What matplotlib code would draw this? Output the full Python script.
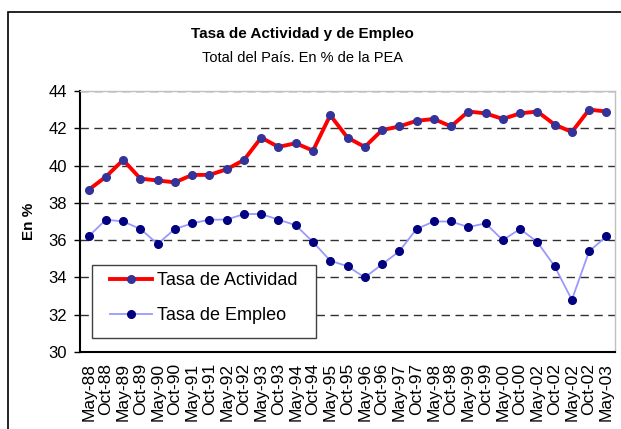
import matplotlib
matplotlib.use('Agg')
import matplotlib.pyplot as plt
from matplotlib.patches import Rectangle
import numpy as np

plt.rcParams['font.family'] = ['Liberation Sans', 'DejaVu Sans']

# ========= data =========
periodos = ['May-88', 'Oct-88', 'May-89', 'Oct-89', 'May-90', 'Oct-90',
            'May-91', 'Oct-91', 'May-92', 'Oct-92', 'May-93', 'Oct-93',
            'May-94', 'Oct-94', 'May-95', 'Oct-95', 'May-96', 'Oct-96',
            'May-97', 'Oct-97', 'May-98', 'Oct-98', 'May-99', 'Oct-99',
            'May-00', 'Oct-00', 'May-02', 'Oct-02', 'May-02', 'Oct-02',
            'May-03']
actividad = [38.7, 39.4, 40.3, 39.3, 39.2, 39.1, 39.5, 39.5, 39.8, 40.3,
             41.5, 41.0, 41.2, 40.8, 42.7, 41.5, 41.0, 41.9, 42.1, 42.4,
             42.5, 42.1, 42.9, 42.8, 42.5, 42.8, 42.9, 42.2, 41.8, 43.0,
             42.9]
empleo = [36.2, 37.1, 37.0, 36.6, 35.8, 36.6, 36.9, 37.1, 37.1, 37.4,
          37.4, 37.1, 36.8, 35.9, 34.9, 34.6, 34.0, 34.7, 35.4, 36.6,
          37.0, 37.0, 36.7, 36.9, 36.0, 36.6, 35.9, 34.6, 32.8, 35.4,
          36.2]
yticks = [30, 32, 34, 36, 38, 40, 42, 44]

# ========= figure =========
fig = plt.figure(figsize=(6.21, 4.29), dpi=100)
fig.patch.set_facecolor('white')
# chart area border (runs off the right and bottom edge)
fig.patches.append(Rectangle((8 / 621, -0.1), 1.2, 0.1 + 417 / 429,
                             transform=fig.transFigure, fill=False,
                             edgecolor='black', linewidth=1.2))

ax = fig.add_axes([80 / 621, 77 / 429, 535 / 621, 261 / 429])
x = np.arange(len(periodos))

ax.plot(x, actividad, color='#FF0000', linewidth=2.8, marker='o',
        markersize=5.5, markerfacecolor='#333399', markeredgecolor='#333399',
        label='Tasa de Actividad', zorder=4)
ax.plot(x, empleo, color='#9999FF', linewidth=1.3, marker='o',
        markersize=5.5, markerfacecolor='#000080', markeredgecolor='#000080',
        label='Tasa de Empleo', zorder=3)

ax.set_xlim(-0.5, len(periodos) - 0.5)
ax.set_ylim(30, 44)
ax.set_yticks(yticks)
ax.set_xticks(x)
ax.set_xticklabels(periodos, rotation=90, fontsize=12.5)
ax.tick_params(axis='x', length=0, pad=8)
ax.tick_params(axis='y', labelsize=12, length=4.5, width=1, direction='out', pad=5)

ax.grid(axis='y', color='#303030', linestyle=(0, (6, 4)), linewidth=1)
ax.set_axisbelow(True)

for side in ['left', 'bottom']:
    ax.spines[side].set_linewidth(1.5)
    ax.spines[side].set_color('black')
for side in ['top', 'right']:
    ax.spines[side].set_linewidth(1)
    ax.spines[side].set_color('#C0C0C0')

ax.set_ylabel('En %', fontsize=11, fontweight='bold', labelpad=9)

# legend box drawn separately so the padding can follow the original
ax.add_patch(Rectangle((12 / 535, 14 / 261), 224 / 535, 73 / 261,
                       transform=ax.transAxes, facecolor='white',
                       edgecolor='#404040', linewidth=1, zorder=5))
leg = ax.legend(loc='upper left', bbox_to_anchor=(30 / 535, 80 / 261),
                fontsize=13, frameon=False, borderpad=0,
                handlelength=2.3, handletextpad=0.3, labelspacing=1.0,
                borderaxespad=0)
leg.set_zorder(6)

fig.text(302 / 621, 1 - 34 / 429, 'Tasa de Actividad y de Empleo',
         ha='center', va='center', fontsize=11, fontweight='bold')
fig.text(302 / 621, 1 - 58 / 429, 'Total del País. En % de la PEA',
         ha='center', va='center', fontsize=10.5)

fig.savefig('out.png', dpi=100)
